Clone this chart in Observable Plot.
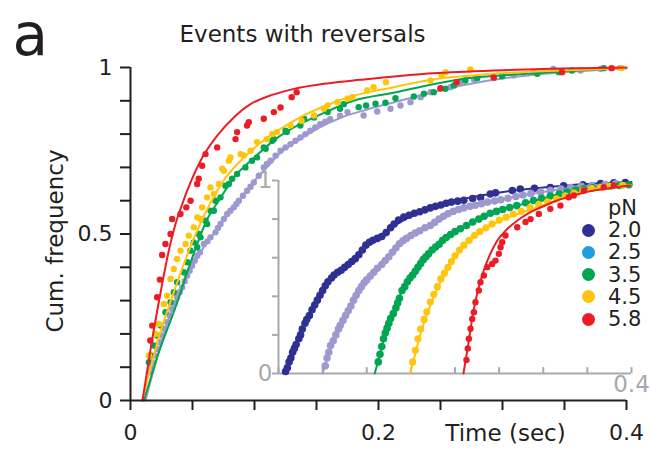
<!DOCTYPE html>
<html><head><meta charset="utf-8">
<script src="https://cdn.jsdelivr.net/npm/d3@7"></script>
<script src="https://cdn.jsdelivr.net/npm/@observablehq/plot@0.6"></script>
<style>
body{margin:0;background:#fff;}
#wrap{position:relative;width:650px;height:451px;font-family:"DejaVu Sans",sans-serif;}
#wrap svg{position:absolute;left:0;top:0;}
.lg{position:absolute;font-size:21px;line-height:22px;color:#231f20;white-space:nowrap;}
.lgdot{position:absolute;width:13px;height:13px;border-radius:50%;}
</style></head><body><div id="wrap"></div>
<script>
// ---------- colours / legend ----------
const legendTitle = "pN";
const legendLabels = ["2.0", "2.5", "3.5", "4.5", "5.8"];
const legendColors = ["#2e3192", "#1e9fdc", "#00a651", "#ffc40c", "#ed1c24"];
const lavender = "#9d99cf";
const axisGray = "#a7a9ac";
const ink = "#231f20";

// ---------- main panel tick values ----------
const mainXTicks = [0, 0.05, 0.1, 0.15, 0.2, 0.25, 0.3, 0.35, 0.4];
const mainXLabels = [0, 0.2, 0.4];
const mainYTicks = [0, 0.1, 0.2, 0.3, 0.4, 0.5, 0.6, 0.7, 0.8, 0.9, 1];
const mainYLabels = [0, 0.5, 1];
// ---------- inset tick values ----------
const insetXTicks = [0, 0.05, 0.1, 0.15, 0.2, 0.25, 0.3, 0.35, 0.4];
const insetXLabels = [0.4];
const insetYTicks = [0, 0.2, 0.4, 0.6, 0.8, 1];
const insetYLabels = [0, 1];

// ---------- main panel data [time, cum. frequency] ----------
const mainLavenderDots = [[0.0148,0.085],[0.0162,0.10],[0.0175,0.115],[0.0195,0.135],[0.0215,0.155],[0.0235,0.175],[0.0255,0.195],[0.0276,0.215],[0.0296,0.235],[0.0316,0.255],[0.0336,0.275],[0.0356,0.292],[0.0376,0.31],[0.0397,0.325],[0.0417,0.34],[0.0437,0.358],[0.0457,0.375],[0.0477,0.39],[0.0497,0.405],[0.0518,0.42],[0.0538,0.435],[0.056,0.445],[0.0592,0.47],[0.062,0.478],[0.0645,0.49],[0.0685,0.505],[0.0705,0.518],[0.0726,0.53],[0.0753,0.545],[0.078,0.56],[0.0806,0.57],[0.0833,0.58],[0.0854,0.59],[0.0874,0.60],[0.0907,0.615],[0.094,0.63],[0.0968,0.642],[0.0995,0.655],[0.1035,0.675],[0.1075,0.70],[0.110,0.71],[0.113,0.72],[0.117,0.735],[0.121,0.75],[0.125,0.76],[0.129,0.77],[0.133,0.78],[0.137,0.79],[0.141,0.80],[0.145,0.81],[0.149,0.82],[0.153,0.83],[0.157,0.837],[0.161,0.845],[0.169,0.855],[0.175,0.866],[0.188,0.856],[0.199,0.868],[0.2097,0.876],[0.2177,0.886],[0.2258,0.896],[0.234,0.911],[0.242,0.926],[0.25,0.936],[0.258,0.941],[0.266,0.956],[0.277,0.964],[0.293,0.968],[0.309,0.976],[0.325,0.986],[0.341,0.996],[0.363,0.991],[0.379,0.996],[0.395,0.999]];
const mainLavenderFit = [[0.0121,0],[0.02,0.11],[0.03,0.235],[0.04,0.33],[0.05,0.405],[0.06,0.465],[0.07,0.515],[0.08,0.565],[0.09,0.61],[0.1,0.66],[0.11,0.70],[0.12,0.74],[0.135,0.78],[0.15,0.815],[0.17,0.85],[0.19,0.873],[0.21,0.893],[0.24,0.922],[0.27,0.948],[0.3,0.967],[0.35,0.986],[0.4,0.998]];

const mainGreenDots = [[0.0148,0.115],[0.0161,0.135],[0.0188,0.165],[0.0215,0.195],[0.0242,0.225],[0.0282,0.265],[0.0323,0.295],[0.0349,0.325],[0.0376,0.355],[0.043,0.385],[0.0457,0.415],[0.0484,0.45],[0.051,0.475],[0.0538,0.46],[0.055,0.50],[0.0565,0.49],[0.0605,0.54],[0.0618,0.53],[0.0645,0.57],[0.0672,0.57],[0.0685,0.60],[0.0726,0.61],[0.0766,0.645],[0.0793,0.65],[0.082,0.666],[0.086,0.68],[0.0927,0.70],[0.098,0.72],[0.102,0.73],[0.1075,0.76],[0.109,0.756],[0.1143,0.78],[0.1156,0.785],[0.125,0.81],[0.126,0.806],[0.137,0.826],[0.14,0.846],[0.148,0.85],[0.159,0.866],[0.169,0.876],[0.172,0.89],[0.184,0.881],[0.19,0.886],[0.1976,0.891],[0.2056,0.894],[0.2137,0.908],[0.2285,0.913],[0.2366,0.921],[0.2446,0.926],[0.254,0.936],[0.2608,0.946],[0.270,0.961],[0.2796,0.968],[0.2997,0.974],[0.328,0.981],[0.3454,0.986],[0.356,0.991],[0.3817,0.998]];
const mainGreenFit = [[0.0108,0],[0.0229,0.145],[0.0363,0.28],[0.0504,0.435],[0.062,0.545],[0.0712,0.6],[0.084,0.672],[0.1,0.73],[0.117,0.785],[0.1317,0.82],[0.155,0.862],[0.18,0.9],[0.212,0.924],[0.239,0.946],[0.266,0.965],[0.32,0.981],[0.374,0.994],[0.40,0.998]];

const mainYellowDots = [[0.0148,0.135],[0.0202,0.2],[0.0228,0.23],[0.0269,0.29],[0.0296,0.315],[0.0323,0.365],[0.0349,0.395],[0.0376,0.425],[0.0403,0.45],[0.0444,0.47],[0.047,0.495],[0.051,0.52],[0.0538,0.55],[0.0565,0.545],[0.0578,0.58],[0.0618,0.61],[0.0645,0.64],[0.0672,0.62],[0.0712,0.65],[0.074,0.696],[0.0753,0.69],[0.0793,0.72],[0.0806,0.73],[0.0887,0.74],[0.0914,0.736],[0.0968,0.75],[0.102,0.776],[0.110,0.785],[0.1143,0.80],[0.118,0.806],[0.129,0.826],[0.138,0.84],[0.148,0.856],[0.156,0.876],[0.159,0.886],[0.167,0.896],[0.175,0.906],[0.179,0.911],[0.191,0.931],[0.196,0.941],[0.206,0.956],[0.242,0.961],[0.251,0.976],[0.254,0.986],[0.274,0.994],[0.396,0.998]];
const mainYellowFit = [[0.0094,0],[0.0229,0.19],[0.0363,0.34],[0.052,0.495],[0.064,0.59],[0.077,0.67],[0.091,0.728],[0.107,0.78],[0.1317,0.84],[0.155,0.882],[0.18,0.915],[0.2124,0.941],[0.239,0.961],[0.293,0.981],[0.347,0.991],[0.40,0.998]];

const mainRedDots = [[0.016,0.18],[0.0175,0.225],[0.0215,0.31],[0.0237,0.363],[0.0255,0.437],[0.0282,0.47],[0.0323,0.50],[0.0336,0.545],[0.0403,0.56],[0.045,0.58],[0.0484,0.60],[0.0538,0.65],[0.055,0.666],[0.0578,0.705],[0.0605,0.74],[0.0699,0.76],[0.0847,0.785],[0.086,0.806],[0.094,0.826],[0.0954,0.836],[0.1075,0.846],[0.1156,0.866],[0.121,0.88],[0.130,0.911],[0.134,0.926],[0.25,0.938],[0.263,0.956],[0.293,0.97],[0.348,0.986],[0.388,0.998]];
const mainRedFit = [[0.0097,0],[0.016,0.15],[0.0228,0.295],[0.0309,0.45],[0.0363,0.53],[0.0403,0.575],[0.0484,0.655],[0.0565,0.72],[0.0699,0.795],[0.0833,0.85],[0.0968,0.89],[0.110,0.912],[0.131,0.935],[0.16,0.953],[0.185,0.963],[0.24,0.982],[0.293,0.991],[0.347,0.997],[0.40,1.0]];

// ---------- inset data [time, cum. frequency] ----------
const insetBlueDots = [[0.008,0.01],[0.01,0.03],[0.012,0.06],[0.014,0.08],[0.016,0.11],[0.018,0.13],[0.02,0.15],[0.023,0.18],[0.025,0.2],[0.027,0.23],[0.03,0.26],[0.032,0.28],[0.035,0.3],[0.038,0.33],[0.041,0.355],[0.044,0.38],[0.047,0.405],[0.05,0.43],[0.053,0.455],[0.056,0.475],[0.06,0.495],[0.063,0.51],[0.067,0.525],[0.071,0.535],[0.075,0.55],[0.079,0.565],[0.083,0.58],[0.087,0.595],[0.091,0.615],[0.095,0.64],[0.099,0.665],[0.103,0.68],[0.107,0.69],[0.112,0.70],[0.117,0.71],[0.122,0.73],[0.127,0.755],[0.131,0.775],[0.136,0.795],[0.142,0.81],[0.148,0.82],[0.154,0.83],[0.16,0.838],[0.166,0.848],[0.172,0.858],[0.178,0.866],[0.184,0.873],[0.19,0.882],[0.196,0.888],[0.203,0.893],[0.21,0.898],[0.22,0.907],[0.229,0.912],[0.24,0.93],[0.246,0.936],[0.265,0.948],[0.274,0.956],[0.29,0.96],[0.308,0.964],[0.323,0.972],[0.345,0.978],[0.365,0.984],[0.38,0.988],[0.393,0.99]];
const insetBlueFit = [[0.009,0],[0.02,0.15],[0.03,0.26],[0.04,0.35],[0.05,0.43],[0.06,0.49],[0.07,0.535],[0.08,0.575],[0.09,0.615],[0.1,0.66],[0.12,0.73],[0.14,0.79],[0.16,0.835],[0.18,0.87],[0.2,0.895],[0.24,0.93],[0.28,0.955],[0.32,0.972],[0.36,0.984],[0.4,0.992]];

const insetLavenderDots = [[0.053,0.04],[0.055,0.08],[0.057,0.11],[0.059,0.145],[0.062,0.17],[0.065,0.2],[0.068,0.23],[0.07,0.25],[0.073,0.275],[0.076,0.3],[0.079,0.325],[0.082,0.35],[0.085,0.38],[0.088,0.405],[0.091,0.43],[0.094,0.45],[0.097,0.47],[0.1,0.485],[0.104,0.505],[0.108,0.525],[0.112,0.545],[0.117,0.565],[0.121,0.585],[0.125,0.605],[0.129,0.628],[0.133,0.65],[0.137,0.672],[0.141,0.688],[0.145,0.70],[0.15,0.715],[0.155,0.728],[0.16,0.74],[0.166,0.755],[0.172,0.767],[0.177,0.783],[0.182,0.80],[0.187,0.815],[0.192,0.828],[0.198,0.84],[0.204,0.85],[0.21,0.858],[0.217,0.866],[0.223,0.872],[0.23,0.88],[0.237,0.888],[0.245,0.894],[0.252,0.90],[0.26,0.908],[0.269,0.917],[0.277,0.925],[0.286,0.933],[0.297,0.94],[0.308,0.948],[0.32,0.956],[0.331,0.964],[0.343,0.97],[0.355,0.974],[0.37,0.979],[0.382,0.983]];
const insetLavenderFit = [[0.05,0],[0.06,0.14],[0.07,0.25],[0.08,0.34],[0.09,0.42],[0.1,0.49],[0.11,0.535],[0.12,0.58],[0.13,0.635],[0.14,0.685],[0.15,0.715],[0.16,0.742],[0.18,0.795],[0.2,0.843],[0.22,0.87],[0.25,0.9],[0.28,0.925],[0.32,0.955],[0.36,0.975],[0.4,0.985]];

const insetGreenDots = [[0.113,0.06],[0.115,0.1],[0.117,0.14],[0.119,0.18],[0.121,0.21],[0.123,0.235],[0.125,0.26],[0.127,0.285],[0.13,0.31],[0.133,0.34],[0.135,0.365],[0.137,0.39],[0.14,0.43],[0.143,0.45],[0.146,0.475],[0.149,0.495],[0.152,0.51],[0.155,0.53],[0.158,0.55],[0.161,0.57],[0.164,0.59],[0.167,0.605],[0.17,0.62],[0.174,0.64],[0.178,0.655],[0.182,0.67],[0.186,0.69],[0.19,0.705],[0.195,0.72],[0.2,0.735],[0.206,0.75],[0.213,0.767],[0.22,0.785],[0.227,0.8],[0.233,0.815],[0.24,0.83],[0.247,0.84],[0.254,0.85],[0.262,0.86],[0.27,0.87],[0.28,0.885],[0.289,0.896],[0.298,0.908],[0.308,0.92],[0.318,0.93],[0.327,0.94],[0.337,0.95],[0.346,0.956],[0.356,0.962],[0.365,0.966],[0.376,0.97],[0.386,0.974],[0.397,0.978]];
const insetGreenFit = [[0.109,0],[0.115,0.1],[0.12,0.19],[0.13,0.31],[0.14,0.43],[0.15,0.5],[0.16,0.56],[0.17,0.62],[0.18,0.665],[0.19,0.7],[0.2,0.735],[0.215,0.77],[0.23,0.81],[0.25,0.845],[0.27,0.87],[0.29,0.895],[0.31,0.92],[0.33,0.942],[0.36,0.962],[0.4,0.978]];

const insetYellowDots = [[0.152,0.06],[0.155,0.12],[0.158,0.18],[0.161,0.23],[0.165,0.28],[0.168,0.32],[0.172,0.37],[0.176,0.41],[0.18,0.45],[0.184,0.49],[0.188,0.52],[0.192,0.55],[0.196,0.58],[0.2,0.61],[0.205,0.64],[0.21,0.665],[0.216,0.69],[0.222,0.715],[0.228,0.735],[0.235,0.755],[0.242,0.775],[0.25,0.795],[0.258,0.81],[0.266,0.825],[0.275,0.84],[0.285,0.86],[0.295,0.875],[0.305,0.89],[0.315,0.905],[0.325,0.92],[0.335,0.935],[0.345,0.948],[0.355,0.958],[0.365,0.965],[0.375,0.97],[0.39,0.975]];
const insetYellowFit = [[0.149,0],[0.155,0.1],[0.16,0.19],[0.17,0.33],[0.18,0.44],[0.19,0.53],[0.2,0.6],[0.21,0.66],[0.22,0.7],[0.235,0.75],[0.25,0.79],[0.27,0.825],[0.29,0.855],[0.31,0.89],[0.33,0.92],[0.35,0.95],[0.37,0.965],[0.4,0.975]];

const insetRedDots = [[0.213,0.07],[0.2145,0.13],[0.2157,0.18],[0.2176,0.232],[0.2195,0.283],[0.2214,0.318],[0.2232,0.369],[0.227,0.43],[0.2289,0.473],[0.2327,0.508],[0.2365,0.551],[0.2421,0.568],[0.2459,0.585],[0.2497,0.62],[0.2516,0.654],[0.2535,0.68],[0.2572,0.715],[0.2705,0.758],[0.2799,0.785],[0.2856,0.80],[0.295,0.827],[0.308,0.853],[0.3195,0.87],[0.329,0.913],[0.3346,0.922],[0.346,0.948],[0.3686,0.965],[0.38,0.974]];
const insetRedFit = [[0.2096,0],[0.215,0.15],[0.221,0.326],[0.2265,0.44],[0.2323,0.53],[0.24,0.62],[0.248,0.689],[0.2595,0.75],[0.2708,0.793],[0.283,0.83],[0.297,0.86],[0.315,0.895],[0.334,0.922],[0.353,0.944],[0.373,0.959],[0.399,0.974]];

// ---------- texts ----------
const panelLetter = "a";
const titleText = "Events with reversals";
const yTitle = "Cum. frequency";
const xTitle = "Time (sec)";

const X = d => d[0], Y = d => d[1];
const fmt = d => String(d);
const series = (dots, fit, color, r) => [
  Plot.line(fit, {x: X, y: Y, stroke: color, strokeWidth: 2, curve: "monotone-x"}),
  Plot.dot(dots, {x: X, y: Y, r: r, fill: color, stroke: "none"})
];

const mainPlot = Plot.plot({
  width: 650, height: 451,
  marginLeft: 130, marginRight: 24, marginTop: 67, marginBottom: 51,
  x: {domain: [0, 0.4]}, y: {domain: [0, 1]},
  style: {fontFamily: "DejaVu Sans", background: "transparent", color: ink, overflow: "visible"},
  marks: [
    ...series(mainLavenderDots, mainLavenderFit, lavender, 3.2),
    ...series(mainGreenDots, mainGreenFit, legendColors[2], 3.2),
    ...series(mainYellowDots, mainYellowFit, legendColors[3], 3.2),
    ...series(mainRedDots, mainRedFit, legendColors[4], 3.2),
    Plot.ruleX([0], {y1: 0, y2: 1, stroke: ink, strokeWidth: 2}),
    Plot.ruleY([0], {x1: 0, x2: 0.4, stroke: ink, strokeWidth: 2}),
    Plot.axisY({ticks: mainYTicks, tickSize: 10, tickPadding: 8, strokeWidth: 2, stroke: ink, fill: ink,
      fontSize: 22, label: null, tickFormat: d => mainYLabels.includes(d) ? fmt(d) : ""}),
    Plot.axisX({ticks: mainXTicks, tickSize: 10, tickPadding: 14, strokeWidth: 2, stroke: ink, fill: ink,
      fontSize: 22, label: null, tickFormat: d => mainXLabels.includes(d) ? fmt(d) : ""}),
    Plot.text([xTitle], {frameAnchor: "bottom-left", dx: 375, dy: 33, text: d => d, fontSize: 23, fill: ink, textAnchor: "middle", lineAnchor: "middle"}),
    Plot.text([yTitle], {frameAnchor: "left", dx: -75, dy: 7, text: d => d, fontSize: 23, fill: ink, rotate: -90, textAnchor: "middle", lineAnchor: "middle"}),
    Plot.text([titleText], {frameAnchor: "top-left", dx: 49, dy: -33, text: d => d, fontSize: 23, fill: ink, textAnchor: "start", lineAnchor: "middle"}),
    Plot.text([panelLetter], {frameAnchor: "top-left", dx: -118, dy: -31, text: d => d, fontSize: 58, fill: ink, textAnchor: "start", lineAnchor: "middle"})
  ]
});

const insetPlot = Plot.plot({
  width: 650, height: 451,
  marginLeft: 278, marginRight: 19, marginTop: 180, marginBottom: 78,
  x: {domain: [0, 0.4]}, y: {domain: [0, 1]},
  style: {fontFamily: "DejaVu Sans", background: "transparent", overflow: "visible"},
  marks: [
    Plot.ruleX([0], {y1: 0, y2: 1, stroke: axisGray, strokeWidth: 2}),
    Plot.ruleY([0], {x1: 0, x2: 0.4, stroke: axisGray, strokeWidth: 2}),
    Plot.ruleX(insetXTicks, {x: d => d, y1: 0, y2: 0.03, stroke: axisGray, strokeWidth: 2}),
    Plot.axisY({ticks: insetYTicks, tickSize: 6, tickPadding: 0, strokeWidth: 2, stroke: axisGray, fill: axisGray,
      fontSize: 23, label: null, tickFormat: d => insetYLabels.includes(d) ? fmt(d) : ""}),
    Plot.axisX({ticks: insetXLabels, tickSize: 0, tickPadding: 2, fill: axisGray,
      fontSize: 23, label: null, tickFormat: fmt}),
    ...series(insetBlueDots, insetBlueFit, legendColors[0], 3.8),
    ...series(insetLavenderDots, insetLavenderFit, lavender, 3.8),
    ...series(insetGreenDots, insetGreenFit, legendColors[2], 3.8),
    ...series(insetYellowDots, insetYellowFit, legendColors[3], 3.6),
    ...series(insetRedDots, insetRedFit, legendColors[4], 3.2)
  ]
});

const wrap = document.getElementById("wrap");
wrap.appendChild(mainPlot);
wrap.appendChild(insetPlot);

// legend (HTML, placed beside the inset)
const lgTop = 230, lgStep = 22.25;
const t = document.createElement("div");
t.className = "lg"; t.textContent = legendTitle;
t.style.left = "608px"; t.style.top = (208 - 11) + "px";
wrap.appendChild(t);
legendLabels.forEach((lab, i) => {
  const cy = lgTop + i * lgStep;
  const dot = document.createElement("div");
  dot.className = "lgdot"; dot.style.background = legendColors[i];
  dot.style.left = (588 - 6.5) + "px"; dot.style.top = (cy - 6.5) + "px";
  wrap.appendChild(dot);
  const tx = document.createElement("div");
  tx.className = "lg"; tx.textContent = lab;
  tx.style.left = "608px"; tx.style.top = (cy - 11) + "px";
  wrap.appendChild(tx);
});
</script>
</body></html>
